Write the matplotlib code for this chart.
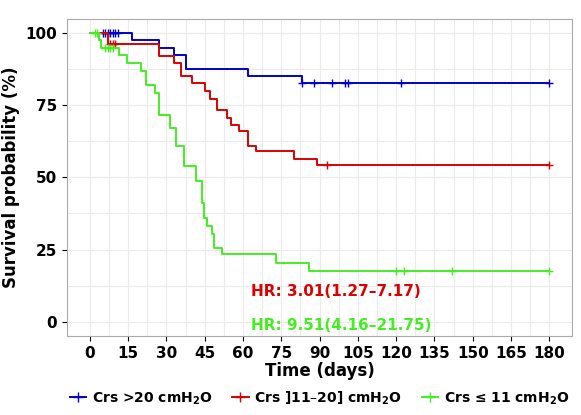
import matplotlib.pyplot as plt
import numpy as np

# step curves: (event day, survival % after)
blue_t = [0, 16.5, 27, 33, 37.5, 62, 83, 180]
blue_s = [100, 97.6, 95, 92.5, 87.7, 85.3, 82.7, 82.7]
blue_cens = [5, 6, 7, 8, 9, 10, 11, 83, 88, 95, 100, 101, 122, 180]

red_t = [0, 7, 27, 33, 35.6, 40, 45, 47, 50, 53.6, 55.5, 58.6, 62, 65, 80, 89, 180]
red_s = [100, 96.3, 92, 89.7, 85.3, 82.7, 80, 77, 73.3, 70.6, 68, 66, 61, 59.3, 56.3, 54.3, 54.3]
red_cens = [8, 9, 10, 93, 180]

green_t = [0, 3.5, 4.5, 11.5, 14.6, 20, 22, 25.6, 27, 31.4, 33.8, 36.8, 41.5, 44, 44.7, 46, 47.9,
           48.5, 51.7, 72.8, 86, 180]
green_s = [100, 97.6, 94.7, 92.3, 89.5, 86.7, 82, 79.3, 71.6, 67, 61, 53.8, 48.8, 41, 36, 33.3, 30.4,
           25.4, 23.3, 20.4, 17.7, 17.7]
green_cens = [2, 3, 6, 7, 8, 9, 120, 123, 142, 180]

labels = ['Crs >20 cmH$_\\mathbf{2}$O', 'Crs ]11\u201320] cmH$_\\mathbf{2}$O', 'Crs \u2264 11 cmH$_\\mathbf{2}$O']
colors = ['#0000cc', '#dd0000', '#44ee22']

fig, ax = plt.subplots(figsize=(5.81, 4.15), dpi=100)
handles = []
for t, s, c, col in [(blue_t, blue_s, blue_cens, colors[0]),
                     (red_t, red_s, red_cens, colors[1]),
                     (green_t, green_s, green_cens, colors[2])]:
    ax.step(t, s, where='post', color=col, lw=1.4)
    cs = [s[np.searchsorted(t, x, side='right') - 1] for x in c]
    ax.plot(c, cs, '+', color=col, ms=6, mew=1)
    handles.append(plt.Line2D([], [], color=col, lw=1.4, marker='+', ms=7))

ax.set_xlim(-9, 189)
ax.set_ylim(-5, 105)
ax.set_xticks(np.arange(0, 181, 15))
ax.set_xticks(np.arange(7.5, 181, 15), minor=True)
ax.set_yticks([0, 25, 50, 75, 100])
ax.set_yticks([12.5, 37.5, 62.5, 87.5], minor=True)
ax.grid(True, which='both', color='#ebebeb', lw=0.8)
ax.set_axisbelow(True)
for sp in ax.spines.values():
    sp.set_color('#aaaaaa')
ax.tick_params(labelsize=11, colors='black', which='major')
ax.tick_params(which='minor', length=0)
for lab in ax.get_xticklabels() + ax.get_yticklabels():
    lab.set_fontweight('bold')
ax.set_xlabel('Time (days)', fontsize=12, fontweight='bold', labelpad=1)
ax.set_ylabel('Survival probability (%)', fontsize=12, fontweight='bold')
ax.text(63, 9, 'HR: 3.01(1.27\u20137.17)', color='#dd0000', fontsize=11, fontweight='bold')
ax.text(63, -3, 'HR: 9.51(4.16\u201321.75)', color='#44ee22', fontsize=11, fontweight='bold')
fig.legend(handles, labels, loc='lower center', bbox_to_anchor=(0.55, -0.01), ncol=3, frameon=False,
           prop={'size': 10, 'weight': 'bold'}, handlelength=1.2, handletextpad=0.4,
           columnspacing=1.4)
fig.subplots_adjust(left=0.115, right=0.985, top=0.955, bottom=0.19)
fig.savefig('out.png')
